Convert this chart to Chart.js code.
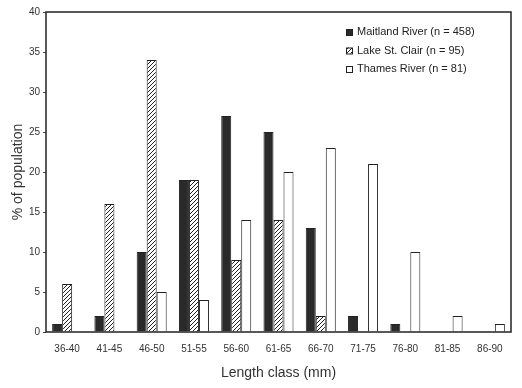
<!DOCTYPE html>
<html>
<head>
<meta charset="utf-8">
<script src="https://cdn.jsdelivr.net/npm/chart.js@4.4.1/dist/chart.umd.min.js"></script>
<style>
  html, body { margin: 0; padding: 0; background: #fff; }
</style>
</head>
<body>
<canvas id="lengthChart" width="522" height="388"></canvas>
<script>
// length classes and % of population per site
const lengthClasses = ['36-40', '41-45', '46-50', '51-55', '56-60', '61-65', '66-70', '71-75', '76-80', '81-85', '86-90'];
const maitland = [1, 2, 10, 19, 27, 25, 13, 2, 1, 0, 0];
const lakeStClair = [6, 16, 34, 19, 9, 14, 2, 0, 0, 0, 0];
const thames = [0, 0, 5, 4, 14, 20, 23, 21, 10, 2, 1];
const seriesLabels = ['Maitland River (n = 458)', 'Lake St. Clair (n = 95)', 'Thames River (n = 81)'];
const yMin = 0, yMax = 40, yStep = 5;

const FONT = "'Liberation Sans', Arial, sans-serif";
const INK = '#222';

const canvas = document.getElementById('lengthChart');
const ctx = canvas.getContext('2d');

// diagonal hatch for the Lake St. Clair bars
function hatchPattern() {
    const c = document.createElement('canvas');
    c.width = 4; c.height = 4;
    const g = c.getContext('2d');
    g.fillStyle = '#fff';
    g.fillRect(0, 0, 4, 4);
    g.strokeStyle = INK;
    g.lineWidth = 1;
    g.beginPath();
    g.moveTo(0, 4); g.lineTo(4, 0);
    g.moveTo(-1, 1); g.lineTo(1, -1);
    g.moveTo(3, 5); g.lineTo(5, 3);
    g.stroke();
    return ctx.createPattern(c, 'repeat');
}

// box around the plot area
const frame = {
    id: 'frame',
    afterDatasetsDraw(chart) {
        const a = chart.chartArea;
        const c = chart.ctx;
        c.save();
        c.strokeStyle = INK;
        c.lineWidth = 1.5;
        c.strokeRect(a.left, a.top, a.right - a.left, a.bottom - a.top);
        c.restore();
    }
};

// legend in the top right corner, inside the box
const insideLegend = {
    id: 'insideLegend',
    afterDraw(chart) {
        const c = chart.ctx;
        const x = 346, y0 = 32, rowH = 18.5, box = 6;
        c.save();
        c.font = '11px ' + FONT;
        c.textBaseline = 'middle';
        chart.data.datasets.forEach((ds, i) => {
            const y = y0 + i * rowH;
            c.fillStyle = ds.backgroundColor;
            c.fillRect(x, y - box / 2, box, box);
            c.strokeStyle = INK;
            c.lineWidth = 1;
            c.strokeRect(x + 0.5, y - box / 2 + 0.5, box, box);
            c.fillStyle = INK;
            c.fillText(ds.label, x + 11, y);
        });
        c.restore();
    }
};

new Chart(ctx, {
    type: 'bar',
    data: {
        labels: lengthClasses,
        datasets: [
            {
                label: seriesLabels[0],
                data: maitland,
                backgroundColor: '#2a2a2a',
                borderColor: INK,
                borderWidth: 1
            },
            {
                label: seriesLabels[1],
                data: lakeStClair,
                backgroundColor: hatchPattern(),
                borderColor: INK,
                borderWidth: 1
            },
            {
                label: seriesLabels[2],
                data: thames,
                backgroundColor: '#ffffff',
                borderColor: INK,
                borderWidth: 1
            }
        ]
    },
    options: {
        responsive: false,
        animation: false,
        devicePixelRatio: 1,
        categoryPercentage: 0.71,
        barPercentage: 1,
        layout: { padding: { left: 0, top: 12, right: 11, bottom: 0 } },
        plugins: {
            legend: { display: false },
            tooltip: { enabled: false }
        },
        scales: {
            x: {
                grid: { display: false, drawTicks: false },
                border: { display: false },
                ticks: { font: { size: 10, family: FONT }, color: '#333', padding: 11, maxRotation: 0, autoSkip: false },
                title: {
                    display: true,
                    text: 'Length class (mm)',
                    font: { size: 14, family: FONT },
                    color: '#333',
                    padding: { top: 0, bottom: 6 }
                },
                afterFit: s => { s.height = 56; }
            },
            y: {
                min: yMin,
                max: yMax,
                grid: { drawOnChartArea: false, drawTicks: true, tickLength: 3, color: '#444' },
                border: { display: false },
                ticks: { stepSize: yStep, font: { size: 10, family: FONT }, color: '#333', padding: 3 },
                title: {
                    display: true,
                    text: '% of population',
                    font: { size: 14, family: FONT },
                    color: '#333',
                    padding: { top: 10, bottom: 0 }
                },
                afterFit: s => { s.width = 46; }
            }
        }
    },
    plugins: [frame, insideLegend]
});
</script>
</body>
</html>
